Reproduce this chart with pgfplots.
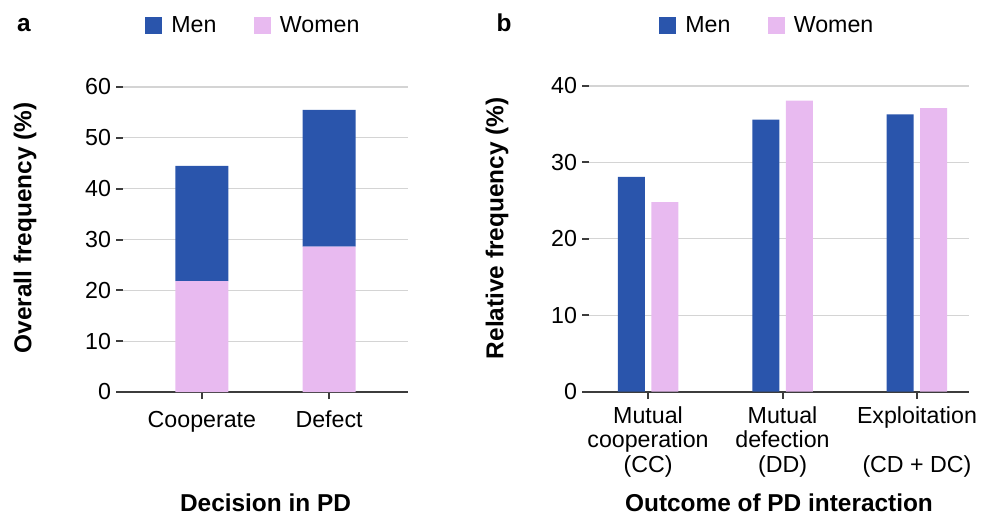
\documentclass[border=0pt]{standalone}
\usepackage{fontspec}
\setmainfont{Liberation Sans}
\usepackage{pgfplots}
\pgfplotsset{compat=1.18}

\definecolor{menblue}{HTML}{2A55AC}
\definecolor{womenpink}{HTML}{E8BAF0}
\definecolor{gridgray}{HTML}{D4D4D4}
\definecolor{axisgray}{HTML}{3C3C3C}

\newcommand{\tickfont}{\fontsize{11.6}{12.2}\selectfont}
\newcommand{\labfont}{\fontsize{12.2}{14}\selectfont\bfseries}

\pgfplotsset{
  sqlegend/.style={
    legend image code/.code={\fill[##1, draw=none] (0pt,-4.25pt) rectangle (8.5pt,4.25pt);}},
  panel/.style={
    scale only axis,
    axis lines*=left,
    y axis line style={draw=none},
    x axis line style={axisgray, line width=1pt},
    tick align=outside,
    major tick length=3.5pt,
    tick style={axisgray, line width=1pt},
    ymin=0,
    ymajorgrids=true,
    grid style={gridgray, line width=0.6pt},
    xtick=data,
    tick label style={font=\tickfont},
    /pgf/number format/assume math mode=true,
    yticklabel style={xshift=1pt},
    legend columns=2,
    legend style={draw=none, fill=none, inner sep=0pt, font=\tickfont,
      nodes={inner sep=0pt},
      /tikz/every odd column/.append style={column sep=4.5pt},
      /tikz/every even column/.append style={column sep=18.7pt}},
    xlabel style={font=\labfont, anchor=base},
    ylabel style={font=\labfont, anchor=center},
  }
}

\begin{document}
\begin{tikzpicture}
\useasboundingbox (0,0) rectangle (500pt,260pt);

\begin{axis}[panel,
  at={(61.5pt,64pt)}, anchor=south west,
  width=142.5pt, height=152.5pt,
  ybar stacked, bar width=26.5pt,
  xmin=-0.62, xmax=1.62,
  ymax=60, ytick={0,10,...,60},
  xticklabels={Cooperate, Defect},
  xticklabel style={yshift=-2.5pt},
  reverse legend,
  legend style={at={(axis description cs:0.0772,1.2)}, anchor=west},
  xlabel={Decision in PD},
  xlabel style={at={(axis description cs:0.5,-0.393)}},
  ylabel={Overall frequency (\%)},
  ylabel style={at={(axis description cs:-0.344,0.538)}},
]
\addplot[fill=womenpink, draw=none, sqlegend] coordinates {(0,21.8) (1,28.6)};
\addlegendentry{Women}
\addplot[fill=menblue, draw=none, sqlegend] coordinates {(0,22.7) (1,26.9)};
\addlegendentry{Men}
\end{axis}

\begin{axis}[panel,
  at={(294.5pt,64.15pt)}, anchor=south west,
  width=190pt, height=152.85pt,
  ybar=3.25pt, bar width=13.5pt,
  xmin=-0.439, xmax=2.387,
  ymax=40, ytick={0,10,...,40},
  xticklabels={{Mutual\\cooperation\\(CC)}, {Mutual\\defection\\(DD)}, {Exploitation\\\mbox{}\\(CD + DC)}},
  xticklabel style={align=center, yshift=-0.5pt},
  legend style={at={(axis description cs:0.184,1.197)}, anchor=west},
  xlabel={Outcome of PD interaction},
  xlabel style={at={(axis description cs:0.5,-0.3935)}},
  ylabel={Relative frequency (\%)},
  ylabel style={at={(axis description cs:-0.242,0.535)}},
]
\addplot[fill=menblue, draw=none, sqlegend] coordinates {(0,28.1) (1,35.6) (2,36.3)};
\addlegendentry{Men}
\addplot[fill=womenpink, draw=none, sqlegend] coordinates {(0,24.8) (1,38.1) (2,37.1)};
\addlegendentry{Women}
\end{axis}

\node[font=\labfont, anchor=base] at (12pt,244pt) {a};
\node[font=\labfont, anchor=base] at (252pt,244pt) {b};
\end{tikzpicture}
\end{document}
